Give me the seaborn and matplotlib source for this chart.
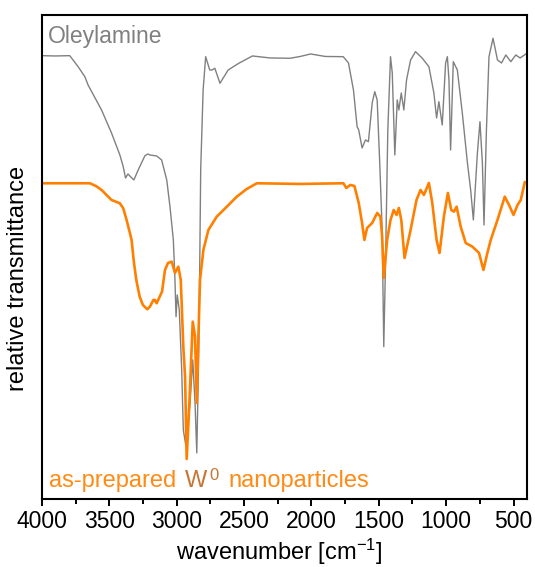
import numpy as np
import pandas as pd
import matplotlib
matplotlib.use("Agg")
import matplotlib.pyplot as plt
from matplotlib.ticker import MultipleLocator
import seaborn as sns

# FTIR spectra, values (relative transmittance, arbitrary units)
ole_wn = [3995, 3905, 3794, 3732, 3682, 3658, 3558, 3484, 3422, 3397, 3380, 3362,
          3348, 3318, 3286, 3237, 3215, 3199, 3149, 3112, 3074, 3050, 3025, 3013, 3005,
          2996, 2981, 2963, 2951, 2931, 2901, 2881, 2864, 2851, 2839, 2832, 2827,
          2822, 2804, 2785, 2755, 2737, 2717, 2679, 2618, 2539, 2438, 2306, 2159,
          2083, 2006, 1897, 1778, 1764, 1725, 1688, 1661, 1649, 1624, 1599, 1577,
          1549, 1530, 1512, 1493, 1475, 1463, 1450, 1433, 1413, 1400, 1381, 1363,
          1351, 1333, 1314, 1294, 1264, 1227, 1177, 1128, 1091, 1071, 1054, 1029,
          1004, 991, 979, 967, 947, 917, 880, 842, 818, 798, 768, 749, 731, 719,
          701, 682, 652, 619, 589, 557, 520, 483, 451, 408]
ole_t = [443.3, 443, 443.3, 432.3, 422.3, 414, 389, 366, 344, 332.3, 321, 325,
         323, 319, 329, 343, 345, 344, 343, 339, 319, 292.3, 259, 219, 182.3,
         204, 189, 129, 69, 52.3, 96, 139, 96, 46, 129, 196, 262.3,
         329, 409, 442.3, 429, 429, 430.7, 415.7, 429, 435.7, 443, 441, 440.7,
         442.5, 445, 442.5, 442.3, 442.3, 436, 409, 372.3, 369, 351, 359, 357.3,
         396, 407.3, 399, 336, 269, 152.3, 236, 369, 442.3, 426, 344, 399,
         389, 406, 389, 419, 439, 447.3, 440.7, 432.3, 406, 381, 397.3, 374,
         436, 442.3, 419, 349, 437.3, 429, 386, 336, 309, 279, 346, 377.3, 336, 274,
         369, 442.3, 460.7, 439, 436, 444, 437.3, 444, 441, 445]

np_wn = [3993, 3794, 3645, 3600, 3558, 3484, 3422, 3397, 3372, 3347, 3335, 3318, 3300,
         3275, 3251, 3219, 3199, 3173, 3162, 3149, 3109, 3087, 3065, 3037, 3013,
         2988, 2970, 2951, 2938, 2926, 2906, 2881, 2864, 2851, 2839, 2827, 2802,
         2765, 2703, 2630, 2554, 2480, 2405, 2083, 1763, 1741, 1711, 1681, 1649, 1624, 1607,
         1587, 1549, 1512, 1488, 1475, 1463, 1438, 1413, 1389, 1368, 1351, 1333,
         1309, 1264, 1220, 1190, 1165, 1128, 1103, 1071, 1049, 1017, 987, 962,
         942, 922, 892, 855, 805, 756, 723, 694, 669, 619, 565, 533, 500, 470,
         446, 416]
np_t = [315.7, 315.7, 315.7, 313, 309, 299, 295.7, 290.7, 279, 265.7, 259, 237, 219,
        202.3, 194, 189.7, 192.3, 199, 199, 195.7, 207.3, 229, 236, 237.3, 226,
        232.3, 219, 152.3, 122.3, 40, 96, 177.3, 162.3, 96, 162.3, 219, 249,
        269, 282.3, 292, 302.3, 310, 315.7, 315, 315.7, 311, 314, 313, 296, 276, 259,
        271, 276, 286, 282.3, 262.3, 221, 259, 279, 289, 284, 291, 279,
        241, 269, 299, 309, 304, 316, 296, 259, 246, 282.3, 306, 289,
        287.3, 292.3, 272.3, 256, 252.3, 246, 229, 246, 259, 279, 302.3, 294, 284, 294,
        299, 317]

xticks = [4000, 3500, 3000, 2500, 2000, 1500, 1000, 500]

ole = pd.DataFrame({"wavenumber": ole_wn, "T": ole_t})
nps = pd.DataFrame({"wavenumber": np_wn, "T": np_t})

sns.set_style("ticks")
plt.rcParams["font.family"] = ["Liberation Sans", "DejaVu Sans"]
plt.rcParams["mathtext.default"] = "regular"
plt.rcParams["text.color"] = "black"
plt.rcParams["axes.labelcolor"] = "black"
plt.rcParams["xtick.color"] = "black"

fig = plt.figure(figsize=(5.35, 5.67), dpi=100)
ax = fig.add_axes([0.0785, 0.12, 0.9065, 0.8536])

sns.lineplot(data=ole, x="wavenumber", y="T", color="#808080", lw=1.0, ax=ax)
sns.lineplot(data=nps, x="wavenumber", y="T", color="#ff8000", lw=1.9, ax=ax)

ax.set_xlim(4000, 400)
ax.set_ylim(0, 484)
ax.set_xticks(xticks)
ax.set_xticklabels([str(t) for t in xticks])
ax.xaxis.set_minor_locator(MultipleLocator(250))
ax.set_yticks([])
ax.tick_params(axis="x", which="major", direction="out", length=5, width=1.4,
               labelsize=16.5, pad=3, colors="black")
ax.tick_params(axis="x", which="minor", direction="out", length=3.5, width=1.4,
               colors="black")
for s in ax.spines.values():
    s.set_visible(True)
    s.set_linewidth(1.5)
    s.set_color("black")

ax.set_xlabel("wavenumber [cm$^{-1}$]", fontsize=17, color="black")
ax.xaxis.set_label_coords(0.49, -0.078)
ax.set_ylabel("relative transmittance", fontsize=17, color="black")
ax.yaxis.set_label_coords(-0.027, 0.455)

ax.text(0.013, 0.943, "Oleylamine", transform=ax.transAxes, color="#808080",
        fontsize=16.5, va="baseline", ha="left")
orange_txt = "#ff8a14"
ax.text(0.015, 0.0254, "as-prepared", transform=ax.transAxes, color=orange_txt,
        fontsize=17, va="baseline", ha="left")
ax.text(0.295, 0.0254, "W", transform=ax.transAxes, color="#c87533",
        fontsize=17, va="baseline", ha="left")
ax.text(0.345, 0.039, "0", transform=ax.transAxes, color="#c87533",
        fontsize=12, va="baseline", ha="left")
ax.text(0.3835, 0.0254, "nanoparticles", transform=ax.transAxes, color=orange_txt,
        fontsize=17, va="baseline", ha="left")

plt.savefig("out.png", dpi=100)
